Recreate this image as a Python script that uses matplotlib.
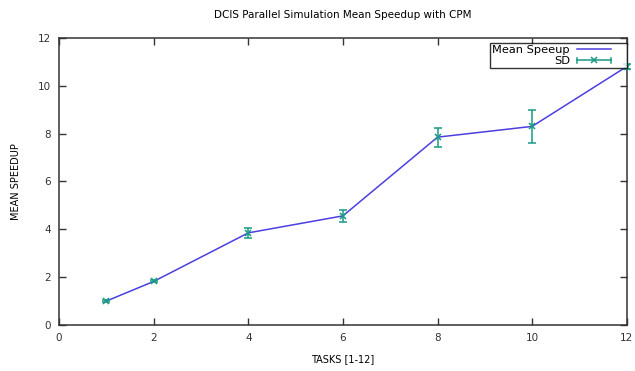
import matplotlib.pyplot as plt
from matplotlib.legend_handler import HandlerBase
from matplotlib.lines import Line2D

tasks = [1, 2, 4, 6, 8, 10, 12]
mean_speedup = [1.0, 1.82, 3.85, 4.56, 7.85, 8.3, 10.8]
sd = [0.03, 0.04, 0.22, 0.25, 0.4, 0.7, 0.12]

line_color = '#4b3fe0'
sd_color = '#1a9a85'


class HandlerKey(HandlerBase):
    # gnuplot style key sample, leaves a gap before the right border
    def __init__(self, errbar=False):
        super().__init__()
        self.errbar = errbar

    def create_artists(self, legend, orig_handle, xdescent, ydescent,
                       width, height, fontsize, trans):
        y = height / 2 - ydescent
        x0 = -xdescent
        x1 = x0 + width * 0.72
        if not self.errbar:
            arts = [Line2D([x0, x1], [y, y], color=line_color, lw=1.1)]
        else:
            c = 0.3 * height
            arts = [
                Line2D([x0, x1], [y, y], color=sd_color, lw=1.1),
                Line2D([x0, x0], [y - c, y + c], color=sd_color, lw=1.1),
                Line2D([x1, x1], [y - c, y + c], color=sd_color, lw=1.1),
                Line2D([(x0 + x1) / 2], [y], marker='x', ms=5, mew=1.1,
                       color=sd_color, ls='none'),
            ]
        for a in arts:
            a.set_transform(trans)
        return arts


plt.rcParams['font.family'] = ['DejaVu Sans']

fig = plt.figure(figsize=(6.35, 3.71), dpi=100)
ax = fig.add_axes([0.093, 0.124, 0.894, 0.774])

ax.plot(tasks, mean_speedup, color=line_color, lw=1.1, zorder=2)
eb = ax.errorbar(tasks, mean_speedup, yerr=sd, fmt='x', color=sd_color, ms=5, mew=1.1,
                 elinewidth=1.1, capsize=3, capthick=1.1, zorder=3)
for art in eb.get_children():
    art.set_clip_on(False)

ax.set_xlim(0, 12)
ax.set_ylim(0, 12)
ax.set_xticks(range(0, 13, 2))
ax.set_yticks(range(0, 13, 2))
ax.tick_params(direction='in', top=True, right=True, length=5, width=1,
               labelsize=7.5, colors='#333333', pad=6)
for s in ax.spines.values():
    s.set_color('#333333')
    s.set_linewidth(1.1)

ax.set_title('DCIS Parallel Simulation Mean Speedup with CPM', fontsize=7.5, pad=14)
ax.set_xlabel('TASKS [1-12]', fontsize=7, labelpad=8)
ax.set_ylabel('MEAN SPEEDUP', fontsize=7, labelpad=12)

mean_handle = Line2D([], [], color=line_color)
sd_handle = Line2D([], [], color=sd_color)
leg = ax.legend([mean_handle, sd_handle], ['Mean Speeup', 'SD'],
                handler_map={mean_handle: HandlerKey(), sd_handle: HandlerKey(True)},
                loc='upper right', bbox_to_anchor=(1.0, 0.983), borderaxespad=0,
                markerfirst=False, fontsize=8.2, frameon=True, fancybox=False,
                edgecolor='black', borderpad=0.2, handlelength=4.2,
                handletextpad=0.6, labelspacing=0.1)
leg.get_frame().set_linewidth(1.0)
for t in leg.get_texts():
    t.set_ha('right')

fig.savefig('out.png', dpi=100)
